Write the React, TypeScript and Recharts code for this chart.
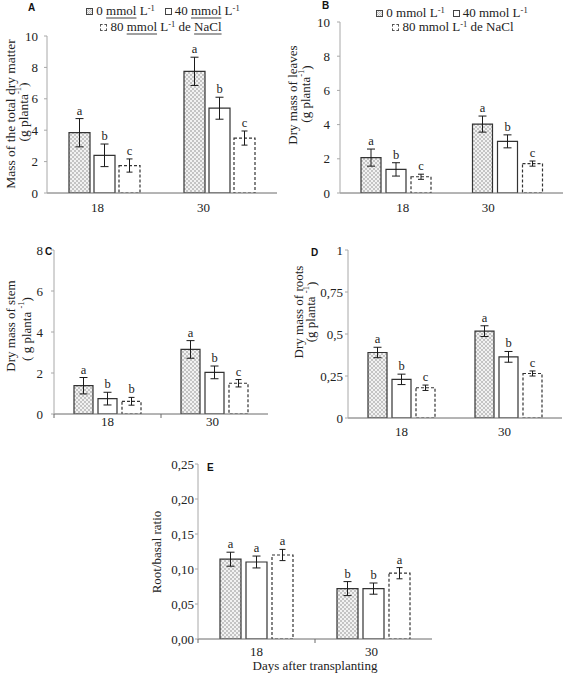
import React from 'react';
import { BarChart, Bar, XAxis, YAxis, ErrorBar, LabelList } from 'recharts';

const SERIF = '"Liberation Serif", "Times New Roman", serif';
const SANS = '"Liberation Sans", Arial, sans-serif';

const categories = ['18', '30'];

// A – Mass of the total dry matter (g planta-1)
const totalMass0 = [3.84, 7.75];
const totalMass0Err = [0.9, 0.9];
const totalMass40 = [2.4, 5.4];
const totalMass40Err = [0.72, 0.7];
const totalMass80 = [1.75, 3.5];
const totalMass80Err = [0.42, 0.45];
const totalMassLetters0 = ['a', 'a'];
const totalMassLetters40 = ['b', 'b'];
const totalMassLetters80 = ['c', 'c'];

// B – Dry mass of leaves
const leaves0 = [2.07, 4.03];
const leaves0Err = [0.5, 0.47];
const leaves40 = [1.38, 3.02];
const leaves40Err = [0.39, 0.38];
const leaves80 = [0.95, 1.72];
const leaves80Err = [0.15, 0.15];
const leavesLetters0 = ['a', 'a'];
const leavesLetters40 = ['b', 'b'];
const leavesLetters80 = ['c', 'c'];

// C – Dry mass of stem
const stem0 = [1.38, 3.15];
const stem0Err = [0.4, 0.43];
const stem40 = [0.75, 2.03];
const stem40Err = [0.31, 0.31];
const stem80 = [0.62, 1.5];
const stem80Err = [0.19, 0.18];
const stemLetters0 = ['a', 'a'];
const stemLetters40 = ['b', 'b'];
const stemLetters80 = ['b', 'c'];

// D – Dry mass of roots
const roots0 = [0.39, 0.517];
const roots0Err = [0.031, 0.032];
const roots40 = [0.23, 0.364];
const roots40Err = [0.031, 0.032];
const roots80 = [0.18, 0.265];
const roots80Err = [0.016, 0.015];
const rootsLetters0 = ['a', 'a'];
const rootsLetters40 = ['b', 'b'];
const rootsLetters80 = ['c', 'c'];

// E – Root/basal ratio
const ratio0 = [0.114, 0.072];
const ratio0Err = [0.01, 0.01];
const ratio40 = [0.11, 0.072];
const ratio40Err = [0.0085, 0.008];
const ratio80 = [0.12, 0.094];
const ratio80Err = [0.008, 0.008];
const ratioLetters0 = ['a', 'b'];
const ratioLetters40 = ['a', 'b'];
const ratioLetters80 = ['a', 'a'];

const ticksA = [0, 2, 4, 6, 8, 10];
const ticksB = [0, 2, 4, 6, 8, 10];
const ticksC = [0, 2, 4, 6, 8];
const ticksD = [0, 0.25, 0.5, 0.75, 1];
const ticksE = [0, 0.05, 0.1, 0.15, 0.2, 0.25];

const buildRows = (
  v0: number[], e0: number[], l0: string[],
  v40: number[], e40: number[], l40: string[],
  v80: number[], e80: number[], l80: string[],
) =>
  categories.map((day, i) => ({
    day,
    v0: v0[i], e0: e0[i], l0: l0[i],
    v40: v40[i], e40: e40[i], l40: l40[i],
    v80: v80[i], e80: e80[i], l80: l80[i],
  }));

const intFmt = (v: number) => String(v);
const commaFmt = (v: number) => String(v).replace('.', ',');
const comma2Fmt = (v: number) => v.toFixed(2).replace('.', ',');

const seriesStyles = [
  { key: '0', fill: 'url(#dotsPat)', dash: undefined as string | undefined, cap: 4 },
  { key: '40', fill: '#ffffff', dash: undefined as string | undefined, cap: 4 },
  { key: '80', fill: '#ffffff', dash: '3 2', cap: 3 },
];

const letterContent = (props: any) => {
  const vb = props.viewBox && typeof props.viewBox.width === 'number' ? props.viewBox : props;
  const parts = String(props.value).split('|');
  const letter = parts[0];
  const e = Number(parts[1]);
  const v = Number(parts[2]);
  const { x, y, width, height } = vb;
  const pxPer = v > 0 ? Math.abs(height) / v : 0;
  const top = Math.min(y, y + height) - e * pxPer;
  return (
    <text x={x + width / 2} y={top - 4} textAnchor="middle" fontSize={12.5} fontFamily={SERIF} fill="#222">
      {letter}
    </text>
  );
};

const makeXTick = (dxs: number[], gap: number, boundary: number | null) => (props: any) => {
  const { x, y, payload, index } = props;
  const axisY = y - gap;
  return (
    <g>
      {boundary != null && (
        <line x1={x - boundary} x2={x - boundary} y1={axisY} y2={axisY + 4} stroke="#6a6a6a" strokeWidth={1} />
      )}
      <text x={x + (dxs[index] || 0)} y={y} dy="0.71em" textAnchor="middle" fontSize={13} fontFamily={SERIF} fill="#222">
        {payload.value}
      </text>
    </g>
  );
};

type PanelCfg = {
  id: string;
  left: number; top: number; width: number; height: number;
  x0: number; x1: number; y0: number; y1: number;
  xAxisH: number;
  domain: [number, number];
  ticks: number[];
  fmt: (v: number) => string;
  rows: any[];
  barSize: number; barGap: number;
  yTickMargin: number;
  xTickGap: number;
  xDx: number[];
  boundary: boolean;
};

const panels: PanelCfg[] = [
  {
    id: 'A', left: 0, top: 0, width: 285, height: 217, x0: 47, x1: 277, y0: 36, y1: 193, xAxisH: 24,
    domain: [0, 10], ticks: ticksA, fmt: intFmt,
    rows: buildRows(totalMass0, totalMass0Err, totalMassLetters0, totalMass40, totalMass40Err, totalMassLetters40, totalMass80, totalMass80Err, totalMassLetters80),
    barSize: 21, barGap: 4, yTickMargin: 6, xTickGap: 10, xDx: [-7, -16], boundary: false,
  },
  {
    id: 'B', left: 285, top: 0, width: 282, height: 217, x0: 340, x1: 563, y0: 22, y1: 193, xAxisH: 24,
    domain: [0, 10], ticks: ticksB, fmt: intFmt,
    rows: buildRows(leaves0, leaves0Err, leavesLetters0, leaves40, leaves40Err, leavesLetters40, leaves80, leaves80Err, leavesLetters80),
    barSize: 20, barGap: 5, yTickMargin: 7, xTickGap: 10, xDx: [7, -19], boundary: false,
  },
  {
    id: 'C', left: 0, top: 217, width: 285, height: 220, x0: 54, x1: 268, y0: 250, y1: 414, xAxisH: 22,
    domain: [0, 8], ticks: ticksC, fmt: intFmt,
    rows: buildRows(stem0, stem0Err, stemLetters0, stem40, stem40Err, stemLetters40, stem80, stem80Err, stemLetters80),
    barSize: 19, barGap: 5, yTickMargin: 8, xTickGap: 3, xDx: [0, -2], boundary: true,
  },
  {
    id: 'D', left: 285, top: 217, width: 282, height: 225, x0: 348, x1: 562, y0: 250, y1: 418, xAxisH: 24,
    domain: [0, 1], ticks: ticksD, fmt: commaFmt,
    rows: buildRows(roots0, roots0Err, rootsLetters0, roots40, roots40Err, rootsLetters40, roots80, roots80Err, rootsLetters80),
    barSize: 19, barGap: 5, yTickMargin: 2, xTickGap: 9, xDx: [0, -4], boundary: false,
  },
  {
    id: 'E', left: 130, top: 442, width: 320, height: 220, x0: 198, x1: 432, y0: 464, y1: 639, xAxisH: 23,
    domain: [0, 0.25], ticks: ticksE, fmt: comma2Fmt,
    rows: buildRows(ratio0, ratio0Err, ratioLetters0, ratio40, ratio40Err, ratioLetters40, ratio80, ratio80Err, ratioLetters80),
    barSize: 21, barGap: 5, yTickMargin: 1, xTickGap: 8, xDx: [0, -2], boundary: true,
  },
];

function Panel(p: PanelCfg) {
  const margin = {
    top: p.y0 - p.top,
    right: p.left + p.width - p.x1,
    left: 0,
    bottom: p.top + p.height - p.y1 - p.xAxisH,
  };
  const half = (p.x1 - p.x0) / categories.length / 2;
  return (
    <div style={{ position: 'absolute', left: p.left, top: p.top, width: p.width, height: p.height }}>
      <BarChart width={p.width} height={p.height} data={p.rows} margin={margin} barGap={p.barGap}>
        <XAxis
          dataKey="day"
          height={p.xAxisH}
          axisLine={{ stroke: '#6a6a6a', strokeWidth: 1 }}
          tickLine={false}
          tickSize={0}
          tickMargin={p.xTickGap}
          interval={0}
          tick={makeXTick(p.xDx, p.xTickGap, p.boundary ? half : null)}
        />
        <YAxis
          type="number"
          width={p.x0 - p.left}
          domain={p.domain}
          ticks={p.ticks}
          interval={0}
          allowDataOverflow
          tickFormatter={p.fmt}
          axisLine={{ stroke: '#a8a8a8', strokeWidth: 1 }}
          tickLine={{ stroke: '#a8a8a8' }}
          tickSize={3}
          tickMargin={p.yTickMargin}
          tick={{ fontSize: 13, fontFamily: SERIF, fill: '#222' }}
        />
        {seriesStyles.map((s) => (
          <Bar
            key={s.key}
            dataKey={`v${s.key}`}
            fill={s.fill}
            stroke="#333"
            strokeWidth={1.2}
            strokeDasharray={s.dash}
            barSize={p.barSize}
            isAnimationActive={false}
          >
            <ErrorBar dataKey={`e${s.key}`} width={s.cap} stroke="#1a1a1a" strokeWidth={1} direction="y" isAnimationActive={false} />
            <LabelList
              dataKey={(r: any) => `${r['l' + s.key]}|${r['e' + s.key]}|${r['v' + s.key]}`}
              content={letterContent}
            />
          </Bar>
        ))}
      </BarChart>
    </div>
  );
}

const Sup = () => (
  <tspan fontSize={8.5} dy={-5}>-1</tspan>
);

function RotLabel({ x, y, size, children }: { x: number; y: number; size: number; children: React.ReactNode }) {
  return (
    <text
      transform={`translate(${x},${y}) rotate(-90)`}
      textAnchor="middle"
      dominantBaseline="central"
      fontFamily={SERIF}
      fontSize={size}
      fill="#222"
    >
      {children}
    </text>
  );
}

function Overlay() {
  const letter = (x: number, y: number, t: string) => (
    <text x={x} y={y} fontFamily={SANS} fontWeight="bold" fontSize={10} fill="#111">{t}</text>
  );
  return (
    <svg width={567} height={677} style={{ position: 'absolute', left: 0, top: 0, pointerEvents: 'none' }}>
      {letter(28, 11, 'A')}
      {letter(322, 9, 'B')}
      {letter(45, 255, 'C')}
      {letter(311, 256, 'D')}
      {letter(207, 471, 'E')}

      <RotLabel x={10} y={114} size={13.5}>Mass of the total dry matter</RotLabel>
      <RotLabel x={23} y={112} size={13.5}>(g planta<Sup /><tspan dy={5}>)</tspan></RotLabel>

      <RotLabel x={292} y={95} size={13}>Dry mass of leaves</RotLabel>
      <RotLabel x={305.5} y={94} size={13}>(g planta<Sup /><tspan dy={5}>)</tspan></RotLabel>

      <RotLabel x={10.5} y={326} size={13}>Dry mass of stem</RotLabel>
      <RotLabel x={26} y={329} size={13}>( g planta <Sup /><tspan dy={5}>)</tspan></RotLabel>

      <RotLabel x={298} y={312} size={13}>Dry mass of roots</RotLabel>
      <RotLabel x={310.5} y={312} size={13}>(g planta <Sup /><tspan dy={5}>)</tspan></RotLabel>

      <RotLabel x={156} y={552} size={13}>Root/basal ratio</RotLabel>

      <text x={315} y={670} textAnchor="middle" fontFamily={SERIF} fontSize={13} fill="#222">Days after transplanting</text>
    </svg>
  );
}

const legendLabels = ['0 mmol L', '40 mmol L', '80 mmol L'];

function LegendIcon({ kind }: { kind: number }) {
  return (
    <span
      style={{
        display: 'inline-block',
        width: 7,
        height: 7,
        boxSizing: 'border-box',
        border: kind === 2 ? '1px dashed #555' : '1px solid #444',
        background: kind === 0 ? 'repeating-conic-gradient(#c4c4c4 0 25%, #f2f2f2 0 50%) 0 0/2px 2px' : '#fff',
        marginRight: 3,
        verticalAlign: '0px',
      }}
    />
  );
}

const supStyle: React.CSSProperties = { fontSize: 8.5, lineHeight: 0, verticalAlign: '4px' };
const ulStyle: React.CSSProperties = {
  textDecorationLine: 'underline',
  textDecorationColor: '#a0a0a0',
  textDecorationThickness: '2px',
  textUnderlineOffset: '2px',
};

function LegendLine({ cx, top, children }: { cx: number; top: number; children: React.ReactNode }) {
  return (
    <div
      style={{
        position: 'absolute',
        left: cx - 110,
        top,
        width: 220,
        textAlign: 'center',
        whiteSpace: 'nowrap',
        fontFamily: SERIF,
        fontSize: 13,
        lineHeight: '16px',
        color: '#222',
      }}
    >
      {children}
    </div>
  );
}

function MmolLabel({ prefix, underline }: { prefix: string; underline: boolean }) {
  return (
    <>
      {prefix} <span style={underline ? ulStyle : undefined}>mmol</span> L<sup style={supStyle}>-1</sup>
    </>
  );
}

function Legends() {
  const p = legendLabels.map((l) => l.split(' ')[0]);
  return (
    <>
      <LegendLine cx={163} top={3}>
        <LegendIcon kind={0} /><MmolLabel prefix={p[0]} underline />
        <span style={{ display: 'inline-block', width: 10 }} />
        <LegendIcon kind={1} /><MmolLabel prefix={p[1]} underline />
      </LegendLine>
      <LegendLine cx={161} top={19}>
        <LegendIcon kind={2} /><MmolLabel prefix={p[2]} underline /> de <span style={ulStyle}>NaCl</span>
      </LegendLine>
      <LegendLine cx={452} top={5}>
        <LegendIcon kind={0} /><MmolLabel prefix={p[0]} underline={false} />
        <span style={{ display: 'inline-block', width: 8 }} />
        <LegendIcon kind={1} /><MmolLabel prefix={p[1]} underline={false} />
      </LegendLine>
      <LegendLine cx={453} top={19}>
        <LegendIcon kind={2} /><MmolLabel prefix={p[2]} underline={false} /> de NaCl
      </LegendLine>
    </>
  );
}

export default function App() {
  return (
    <div style={{ position: 'absolute', left: 0, top: 0, width: 567, height: 677, background: '#fff', overflow: 'hidden' }}>
      <svg width={0} height={0} style={{ position: 'absolute' }}>
        <defs>
          <pattern id="dotsPat" width={4} height={4} patternUnits="userSpaceOnUse">
            <rect width={4} height={4} fill="#f2f2f2" />
            <rect width={2} height={2} fill="#c4c4c4" />
            <rect x={2} y={2} width={2} height={2} fill="#c4c4c4" />
          </pattern>
        </defs>
      </svg>
      {panels.map((p) => (
        <Panel key={p.id} {...p} />
      ))}
      <Overlay />
      <Legends />
    </div>
  );
}
